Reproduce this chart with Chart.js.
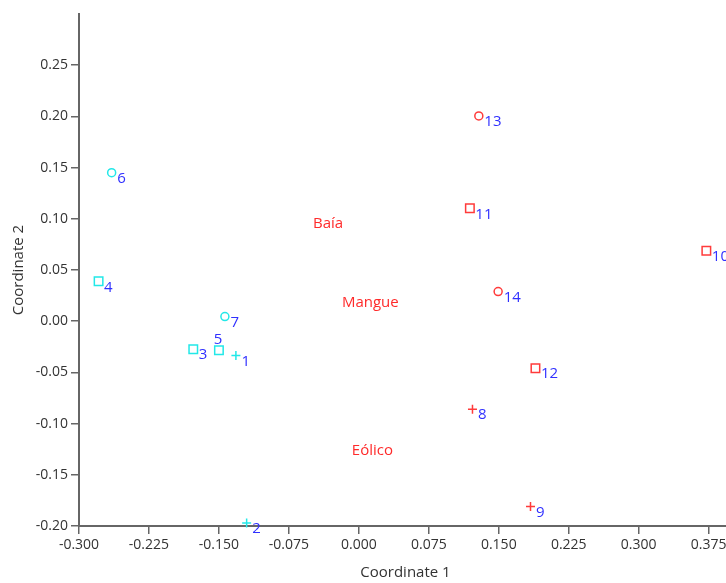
<!DOCTYPE html>
<html><head><meta charset="utf-8">
<script src="https://cdn.jsdelivr.net/npm/chart.js@4"></script>
<style>html,body{margin:0;padding:0;background:#fff;overflow:hidden;width:726px;height:583px}
#wrap{position:relative;width:760px;height:583px}</style></head>
<body><div id="wrap"><canvas id="c" width="760" height="583"></canvas></div>
<script>
const pointIds = ['1','2','3','4','5','6','7','8','9','10','11','12','13','14'];
const coordinate1 = [-0.1318,-0.1203,-0.1775,-0.279,-0.150,-0.265,-0.1436,0.1218,0.184,0.3725,0.119,0.1893,0.1286,0.1493];
const coordinate2 = [-0.0336,-0.197,-0.0273,0.039,-0.0283,0.145,0.0045,-0.0859,-0.181,0.0687,0.1103,-0.0459,0.2005,0.0289];
const markerGroup = ['plus','plus','square','square','square','circle','circle','plus','plus','square','square','square','circle','circle'];
const colourGroup = ['A','A','A','A','A','A','A','B','B','B','B','B','B','B'];
const groupLabels = ['Baía','Mangue','Eólico'];
const groupLabelX = [-0.033, 0.0123, 0.0145];
const groupLabelY = [0.095, 0.0184, -0.1264];
const xTickValues = [-0.3,-0.225,-0.15,-0.075,0,0.075,0.15,0.225,0.3,0.375];
const yTickValues = [-0.2,-0.15,-0.1,-0.05,0,0.05,0.1,0.15,0.2,0.25];

const FONT = '"Open Sans", sans-serif';
const markerStyle = {plus:{pointStyle:'cross',radius:4.5}, square:{pointStyle:'rect',radius:6}, circle:{pointStyle:'circle',radius:4}};
const colourStyle = {A:'#22e8e8', B:'#ff3b3b'};

const datasets = [];
['A','B'].forEach(cg => {
  ['square','circle','plus'].forEach(mg => {
    const data = [];
    pointIds.forEach((id,i) => {
      if (colourGroup[i]===cg && markerGroup[i]===mg) data.push({x:coordinate1[i], y:coordinate2[i], id:id});
    });
    if (!data.length) return;
    datasets.push({
      data, pointStyle: markerStyle[mg].pointStyle, pointRadius: markerStyle[mg].radius,
      pointBorderColor: colourStyle[cg], pointBackgroundColor:'rgba(0,0,0,0)', pointBorderWidth:1.5,
      showLine:false, clip:false
    });
  });
});

const labelPlugin = {
  id:'labels',
  afterDatasetsDraw(chart){
    const ctx = chart.ctx;
    ctx.save();
    ctx.font = '15px ' + FONT;
    ctx.fillStyle = '#3030ff';
    const pts = [];
    chart.data.datasets.forEach((ds,di)=>{
      chart.getDatasetMeta(di).data.forEach((el,i)=>pts.push({x:el.x,y:el.y,id:ds.data[i].id}));
    });
    pts.forEach(p=>{
      const w = ctx.measureText(p.id).width;
      const lx = p.x+5.5, ly = p.y+6;
      const hit = pts.some(q=> q!==p && q.x+5>lx && q.x-5<lx+w && q.y+5>ly-6 && q.y-5<ly+6);
      if (hit) { ctx.textAlign='center'; ctx.textBaseline='middle'; ctx.fillText(p.id,p.x-1,p.y-10); }
      else { ctx.textAlign='left'; ctx.textBaseline='middle'; ctx.fillText(p.id,lx,ly); }
    });
    ctx.fillStyle = '#ff2a2a';
    ctx.textAlign='center'; ctx.textBaseline='middle';
    const sx = chart.scales.x, sy = chart.scales.y;
    groupLabels.forEach((g,i)=>ctx.fillText(g, sx.getPixelForValue(groupLabelX[i]), sy.getPixelForValue(groupLabelY[i])));
    ctx.restore();
  }
};

const axisCommon = (fmt)=>({
  type:'linear',
  grid:{drawOnChartArea:false, drawTicks:true, tickLength:8, color:'#666', lineWidth:1.5},
  border:{display:true, color:'#666', width:2},
  ticks:{color:'#333', font:{family:FONT,size:14}, padding:3, maxRotation:0, autoSkip:false, callback:(v)=>Number(v).toFixed(fmt)}
});
const xAxis = Object.assign(axisCommon(3), {
  min:-0.3, max:0.4,
  afterBuildTicks:s=>{s.ticks = xTickValues.map(v=>({value:v}));},
  afterFit:s=>{s.height=57;},
  title:{display:true, text:'Coordinate 1', color:'#333', font:{family:FONT,size:15}, padding:{top:0,bottom:1}}
});
const yAxis = Object.assign(axisCommon(2), {
  min:-0.2, max:0.3,
  afterBuildTicks:s=>{s.ticks = yTickValues.map(v=>({value:v}));},
  afterFit:s=>{s.width=79;},
  title:{display:true, text:'Coordinate 2', color:'#333', font:{family:FONT,size:15}, padding:{top:10,bottom:0}}
});

new Chart(document.getElementById('c'), {
  type:'scatter',
  data:{datasets},
  options:{
    responsive:false, animation:false, devicePixelRatio:1,
    layout:{padding:{left:0,top:14,right:28,bottom:0}},
    plugins:{legend:{display:false}, tooltip:{enabled:false}},
    scales:{x:xAxis, y:yAxis}
  },
  plugins:[labelPlugin]
});
</script></body></html>
